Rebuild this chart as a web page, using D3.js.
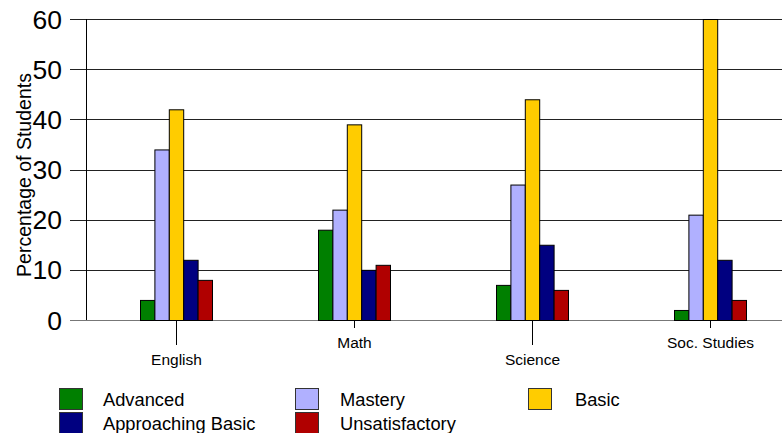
<!DOCTYPE html>
<html><head><meta charset="utf-8">
<script src="https://cdn.jsdelivr.net/npm/d3@7"></script>
<style>body{margin:0;background:#fff}svg{display:block;font-family:"Liberation Sans",Arial,sans-serif}</style>
</head><body>
<svg id="c" width="782" height="433"></svg>
<script>
const categories = ["English", "Math", "Science", "Soc. Studies"];
const seriesNames = ["Advanced", "Mastery", "Basic", "Approaching Basic", "Unsatisfactory"];
const advanced = [4, 18, 7, 2];
const mastery = [34, 22, 27, 21];
const basic = [42, 39, 44, 60];
const approaching = [12, 10, 15, 12];
const unsatisfactory = [8, 11, 6, 4];
const colors = ["#007f00", "#b0b0ff", "#ffcc00", "#000080", "#b00000"];
const yTicks = [0, 10, 20, 30, 40, 50, 60];

const seriesValues = [advanced, mastery, basic, approaching, unsatisfactory];
const svg = d3.select("#c");
const yScale = d3.scaleLinear().domain([0, 60]).range([320, 19]);
const xScale = d3.scaleBand().domain(categories).range([87, 799]).padding(0);
const inner = d3.scaleBand().domain(seriesNames).range([-36, 36]).padding(0);

// gridlines
svg.append("g").selectAll("line").data(yTicks).join("line")
  .attr("x1", 70).attr("x2", 782)
  .attr("y1", d => Math.round(yScale(d)) + 0.5).attr("y2", d => Math.round(yScale(d)) + 0.5)
  .attr("stroke", d => d === 0 ? "#777" : "#222").attr("stroke-width", 1);

// y tick labels
svg.append("g").selectAll("text").data(yTicks).join("text")
  .attr("x", 62).attr("y", d => yScale(d)).attr("dy", "0.36em")
  .attr("text-anchor", "end").attr("font-size", 26.5).attr("fill", "#000")
  .text(d => d);

// y axis line
svg.append("line").attr("x1", 86.5).attr("x2", 86.5).attr("y1", 19).attr("y2", 320).attr("stroke", "#000");

// axis title
svg.append("text").attr("transform", "translate(31,175) rotate(-90)")
  .attr("text-anchor", "middle").attr("font-size", 19.5).text("Percentage of Students");

// bars
categories.forEach((cat, ci) => {
  const g = svg.append("g");
  g.selectAll("rect").data(seriesNames).join("rect")
    .attr("x", s => xScale(cat) + xScale.bandwidth() / 2 + inner(s) + 0.5)
    .attr("width", inner.bandwidth())
    .attr("y", (s, si) => yScale(seriesValues[si][ci]) + 0.5)
    .attr("height", (s, si) => yScale(0) - yScale(seriesValues[si][ci]))
    .attr("fill", (s, si) => colors[si])
    .attr("stroke", "#000").attr("stroke-width", 1);
});

// category ticks & labels
categories.forEach((cat, ci) => {
  const cx = Math.round(xScale(cat) + xScale.bandwidth() / 2) + 0.5;
  const low = ci % 2 === 0;
  svg.append("line").attr("x1", cx).attr("x2", cx).attr("y1", 320).attr("y2", low ? 345 : 328).attr("stroke", "#000");
  svg.append("text").attr("x", cx).attr("y", low ? 360 : 343).attr("dy", "0.35em")
    .attr("text-anchor", "middle").attr("font-size", 15.5).text(cat);
});

// legend
const legendPos = [[59, 388, 103], [295, 388, 340], [528, 388, 575], [59, 412, 103], [295, 412, 340]];
seriesNames.forEach((s, i) => {
  const [sx, sy, tx] = legendPos[i];
  svg.append("rect").attr("x", sx + 0.5).attr("y", sy + 0.5).attr("width", 23).attr("height", 21)
    .attr("fill", colors[i]).attr("stroke", "#333");
  svg.append("text").attr("x", tx).attr("y", sy + 11.5).attr("dy", "0.35em")
    .attr("font-size", 18.3).text(s);
});
</script>
</body></html>
